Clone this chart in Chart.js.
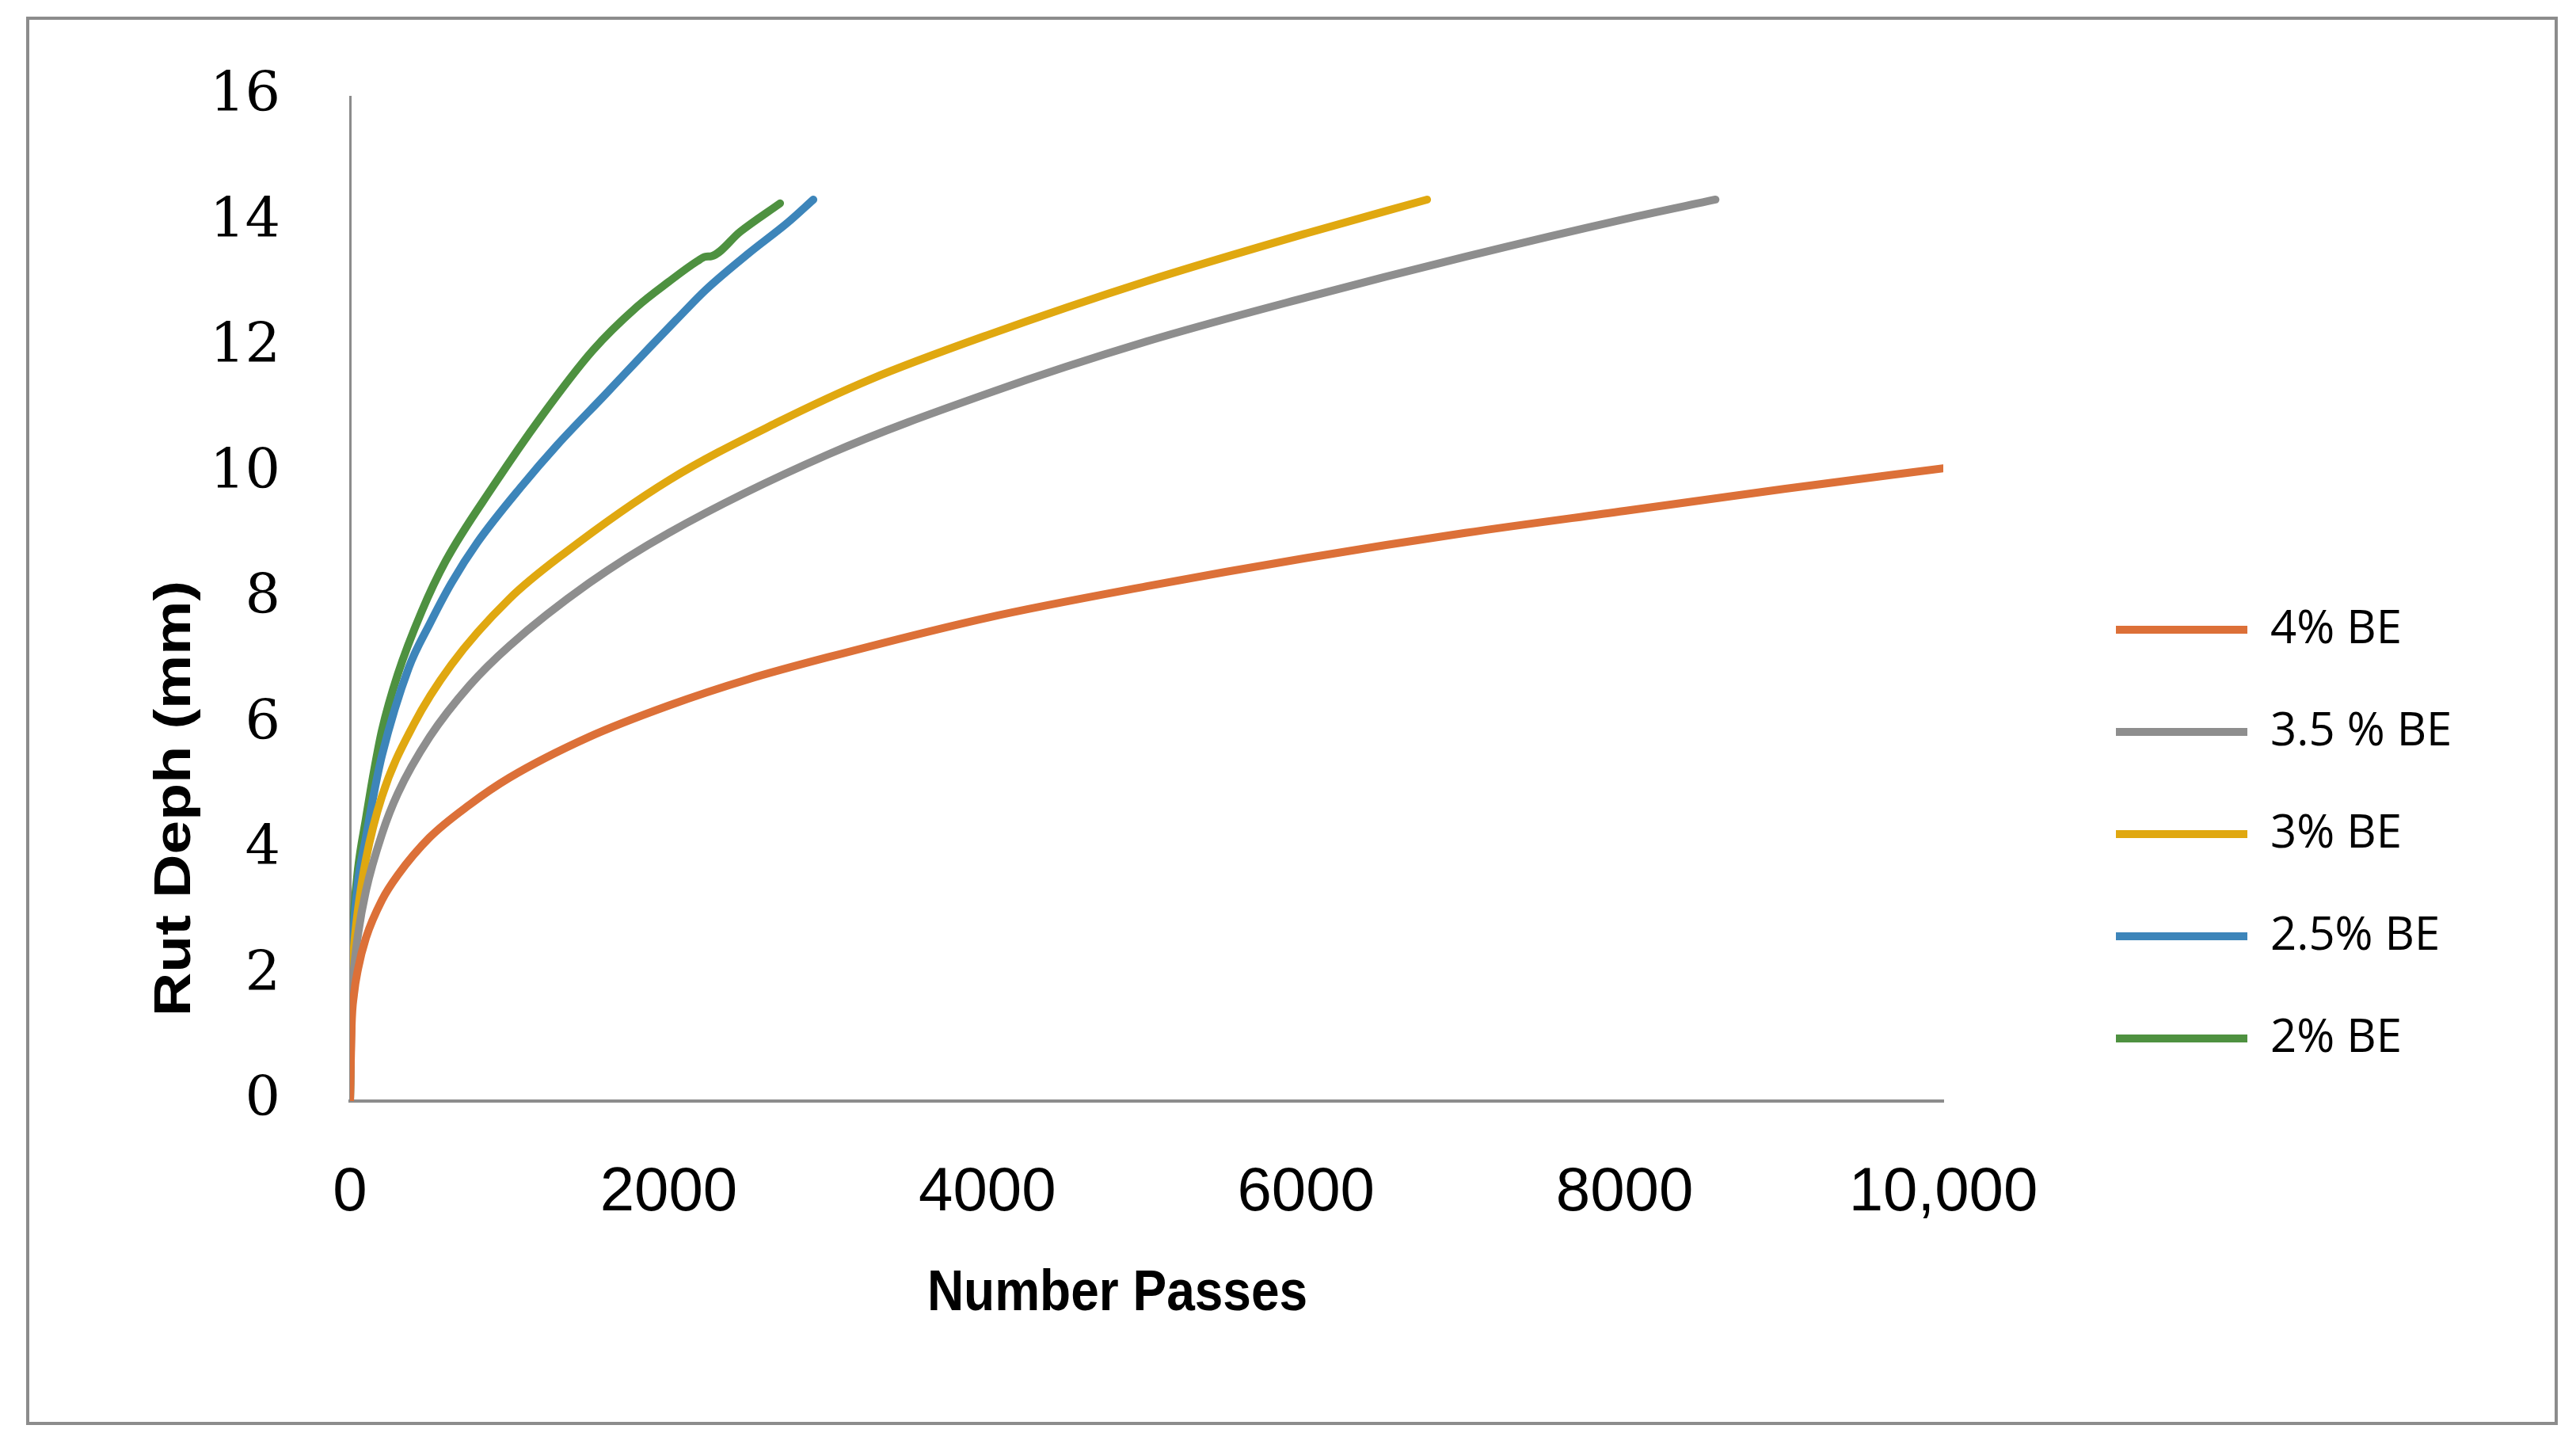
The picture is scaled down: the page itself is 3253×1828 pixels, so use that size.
<!DOCTYPE html>
<html>
<head>
<meta charset="utf-8">
<script src="https://cdn.jsdelivr.net/npm/chart.js@4.4.0/dist/chart.umd.min.js"></script>
<style>
  html, body { margin: 0; padding: 0; background: #fff; }
</style>
</head>
<body>
<canvas id="rutChart" width="3253" height="1828"></canvas>
<script>
// ─── Data ──────────────────────────────────────────────────────────────────
const seriesNames = ['4% BE', '3.5 % BE', '3% BE', '2.5% BE', '2% BE'];
const seriesColors = ['#DC7038', '#8E8E8E', '#E0A810', '#3D85BA', '#4E9140'];

const passes4 = [0, 10, 25, 50, 100, 200, 300, 500, 750, 1000, 1500, 2000, 2500, 3000, 4000, 5000, 6000, 7000, 8000, 9000, 10000];
const rut4    = [0, 1.2, 1.7, 2.1, 2.6, 3.2, 3.6, 4.2, 4.72, 5.15, 5.8, 6.3, 6.72, 7.07, 7.7, 8.2, 8.65, 9.05, 9.4, 9.75, 10.08];

const passes35 = [0, 10, 25, 50, 100, 200, 300, 500, 750, 1000, 1500, 2000, 3000, 4000, 5000, 6000, 7000, 8000, 8570];
const rut35    = [0, 1.5, 2.1, 2.65, 3.35, 4.25, 4.9, 5.8, 6.62, 7.25, 8.25, 9.05, 10.3, 11.27, 12.1, 12.8, 13.45, 14.05, 14.36];

const passes3 = [0, 10, 25, 50, 100, 200, 400, 636, 1000, 1342, 2008, 2674, 3270, 4000, 5000, 6000, 6760];
const rut3    = [0, 1.8, 2.45, 3.05, 3.85, 4.85, 6.0, 6.95, 8.0, 8.72, 9.9, 10.8, 11.5, 12.2, 13.06, 13.82, 14.36];

const passes25 = [0, 10, 25, 50, 100, 150, 200, 368, 500, 636, 800, 1079, 1300, 1600, 1879, 2050, 2232, 2500, 2750, 2908];
const rut25    = [0, 2.0, 2.8, 3.5, 4.2, 4.9, 5.5, 6.9, 7.6, 8.25, 8.9, 9.8, 10.45, 11.25, 12.0, 12.45, 12.92, 13.5, 14.0, 14.36];

const passes2 = [0, 10, 25, 50, 100, 150, 200, 300, 450, 600, 900, 1200, 1521, 1800, 2000, 2180, 2230, 2270, 2450, 2699];
const rut2    = [0, 2.2, 3.0, 3.7, 4.5, 5.25, 5.9, 6.8, 7.8, 8.6, 9.8, 10.9, 11.95, 12.65, 13.05, 13.38, 13.45, 13.46, 13.85, 14.3];

const xTickLabels = ['0', '2000', '4000', '6000', '8000', '10,000'];
const yTickLabels = ['0', '2', '4', '6', '8', '10', '12', '14', '16'];

const passesAll = [passes4, passes35, passes3, passes25, passes2];
const rutAll = [rut4, rut35, rut3, rut25, rut2];

// ─── Legend sizing ──────────────────────────────────────────────────────────
const legendFont = 58;
const legendPad = 71;
const legendLine = 166;
const probe = document.createElement('canvas').getContext('2d');
probe.font = legendFont + 'px "Open Sans"';
const widest = Math.max(...seriesNames.map(n => probe.measureText(n).width));
const legendWidth = legendPad + legendLine + legendFont / 2 + widest + 10;
const padRight = 3253 - (2672 - legendPad) - legendWidth;

// frame + axis titles
const framePlugin = {
  id: 'frame',
  beforeDraw(chart) {
    const ctx = chart.ctx;
    ctx.save();
    ctx.fillStyle = '#fff';
    ctx.fillRect(0, 0, chart.width, chart.height);
    ctx.strokeStyle = '#8c8c8c';
    ctx.lineWidth = 4;
    ctx.strokeRect(35, 23, 3193, 1774);
    ctx.restore();
  },
  afterDraw(chart) {
    const ctx = chart.ctx;
    ctx.save();
    ctx.fillStyle = '#000';
    ctx.font = 'bold 64px "Liberation Sans", Arial, sans-serif';
    ctx.textAlign = 'center';
    ctx.textBaseline = 'middle';
    // x title, stretched a little vertically like the source
    ctx.translate(1411, 1634);
    ctx.scale(1, 1.14);
    ctx.fillText('Number Passes', 0, 0);
    ctx.restore();

    ctx.save();
    ctx.fillStyle = '#000';
    ctx.font = 'bold 64px "Liberation Sans", Arial, sans-serif';
    ctx.textAlign = 'center';
    ctx.textBaseline = 'middle';
    ctx.translate(222, 1008);
    ctx.rotate(-Math.PI / 2);
    ctx.scale(1.2, 1);
    ctx.fillText('Rut Deph (mm)', 0, 0);
    ctx.restore();
  }
};

// bottom padding is negative so the full-height legend centres lower down
const padBottom = -160;

new Chart(document.getElementById('rutChart'), {
  type: 'line',
  data: {
    datasets: seriesNames.map((name, i) => ({
      label: name,
      data: passesAll[i].map((x, j) => ({ x, y: rutAll[i][j] })),
      borderColor: seriesColors[i],
      backgroundColor: seriesColors[i],
      borderWidth: 10,
      pointRadius: 0,
      fill: false,
      cubicInterpolationMode: 'monotone',
      borderCapStyle: 'round',
      borderJoinStyle: 'round',
    })),
  },
  options: {
    responsive: false,
    animation: false,
    devicePixelRatio: 1,
    layout: { padding: { top: 118, left: 0, right: padRight, bottom: padBottom } },
    plugins: {
      tooltip: { enabled: false },
      legend: {
        position: 'right',
        align: 'center',
        labels: {
          usePointStyle: true,
          pointStyle: 'line',
          pointStyleWidth: legendLine,
          padding: legendPad,
          color: '#000',
          font: { family: '"Open Sans", sans-serif', size: legendFont },
        },
      },
    },
    scales: {
      x: {
        type: 'linear',
        min: 0,
        max: 10000,
        grid: { display: false },
        border: { display: true, color: '#8c8c8c', width: 4 },
        ticks: {
          stepSize: 2000,
          autoSkip: false,
          maxRotation: 0,
          padding: 62,
          color: '#000',
          font: { family: '"Liberation Sans", Arial, sans-serif', size: 78 },
          callback: (v, i) => xTickLabels[i],
        },
        afterFit(s) { s.height = 1828 - padBottom - 1390; },
      },
      y: {
        type: 'linear',
        min: 0,
        max: 16,
        grid: { display: false },
        border: { display: true, color: '#8c8c8c', width: 3 },
        ticks: {
          stepSize: 2,
          padding: 80,
          color: '#000',
          font: { family: '"DejaVu Serif", serif', size: 70 },
          callback: (v, i) => yTickLabels[i],
        },
        afterFit(s) { s.width = 442; },
      },
      gap: {
        type: 'linear',
        position: 'right',
        display: true,
        grid: { display: false },
        border: { display: false },
        ticks: { display: false },
        afterFit(s) { s.width = 2672 - legendPad - 2454; },
      },
    },
  },
  plugins: [framePlugin],
});
</script>
</body>
</html>
